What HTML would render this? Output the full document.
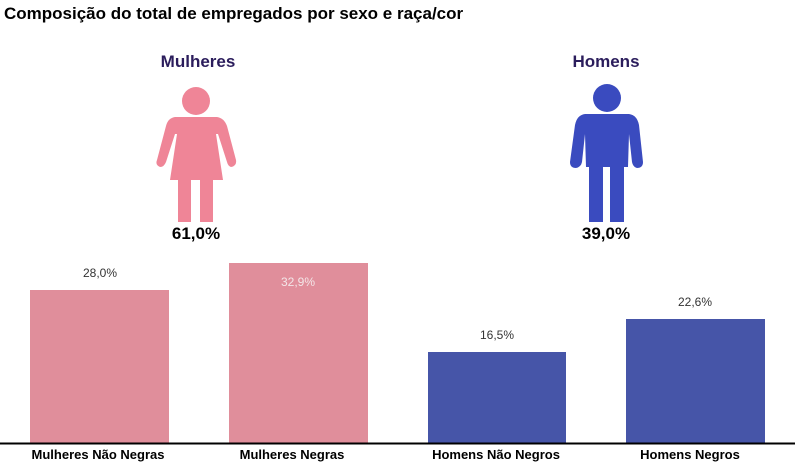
<!DOCTYPE html><html><head><style>
body{margin:0;width:803px;height:464px;background:#fff;position:relative;font-family:"Liberation Sans",sans-serif;overflow:hidden}
.t{position:absolute;white-space:nowrap}
</style></head><body>
<div class="t" style="left:4px;top:4px;font-size:17px;font-weight:bold;color:#000">Composição do total de empregados por sexo e raça/cor</div>
<div class="t" style="left:158px;top:52px;width:80px;text-align:center;font-size:17px;font-weight:bold;color:#2b1d5c">Mulheres</div>
<div class="t" style="left:566px;top:52px;width:80px;text-align:center;font-size:17px;font-weight:bold;color:#2b1d5c">Homens</div>
<svg width="803" height="464" style="position:absolute;left:0;top:0">
<g fill="#ef8597">
<circle cx="196" cy="101" r="14"/>
<path d="M175 117 L217 117 Q224 118 227 126 L236 160 Q237 166 231 167 Q228 166 227 162 L218 134 L216 134 L223 180 L170 180 L177 134 L175 134 L166 162 Q164 167 160 167 Q155 165 157 160 L166 126 Q168 118 175 117 Z"/>
<rect x="178" y="178" width="13" height="44"/><rect x="200" y="178" width="13" height="44"/>
</g>
<g fill="#3a4bbf">
<circle cx="607" cy="98" r="14"/>
<path d="M585 114 L629 114 Q637 115 639 125 L643 162 Q643 168 637 168 Q633 167 632 162 L629 134 L628 167 L586 167 L585 134 L582 162 Q581 167 576 168 Q570 168 570 162 L575 125 Q577 115 585 114 Z"/>
<rect x="589" y="160" width="14" height="62"/><rect x="610" y="160" width="14" height="62"/>
</g>
<g>
<rect x="30" y="290" width="139" height="153" fill="#e08e9b"/>
<rect x="229" y="263" width="139" height="180" fill="#e08e9b"/>
<rect x="428" y="352" width="138" height="91" fill="#4655a8"/>
<rect x="626" y="319" width="139" height="124" fill="#4655a8"/>
<line x1="0" y1="443.5" x2="795" y2="443.5" stroke="#000" stroke-width="2"/>
</g>
<g font-family="Liberation Sans,sans-serif" font-size="12" text-anchor="middle">
<text x="100" y="277" fill="#333">28,0%</text>
<text x="298" y="286" fill="#f3e6e8">32,9%</text>
<text x="497" y="339" fill="#333">16,5%</text>
<text x="695" y="306" fill="#333">22,6%</text>
</g>
<g font-family="Liberation Sans,sans-serif" font-size="17" font-weight="bold" text-anchor="middle" fill="#000">
<text x="196" y="239">61,0%</text>
<text x="606" y="239">39,0%</text>
</g>
<g font-family="Liberation Sans,sans-serif" font-size="13" font-weight="bold" text-anchor="middle" fill="#000">
<text x="98" y="459">Mulheres Não Negras</text>
<text x="292" y="459">Mulheres Negras</text>
<text x="496" y="459">Homens Não Negros</text>
<text x="690" y="459">Homens Negros</text>
</g>
</svg>
</body></html>
